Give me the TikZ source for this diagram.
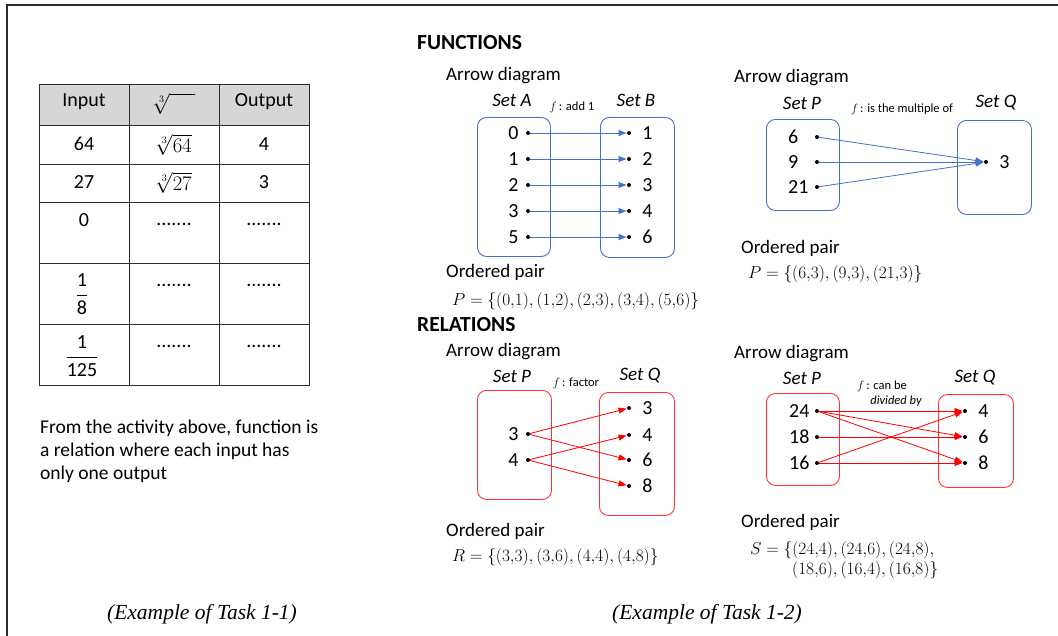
\documentclass[tikz,border=0pt]{standalone}
\usepackage{fontspec}
\setmainfont{Carlito}
\newfontfamily\capfont{Liberation Serif}
\usetikzlibrary{arrows.meta,positioning}
\definecolor{myblue}{HTML}{4472C4}
\definecolor{myred}{HTML}{FF0000}
\definecolor{boxred}{HTML}{FF3333}
\definecolor{hdrgray}{HTML}{D6D6D6}
\definecolor{framegray}{HTML}{2B2B2B}
\newcommand{\pr}[2]{(#1{,}#2)}
\begin{document}
\begin{tikzpicture}[x=1pt,y=-1pt,
  every node/.style={inner sep=0pt},
  big/.style={font=\fontsize{20}{24}\selectfont},
  head/.style={font=\fontsize{19}{23}\selectfont, anchor=west},
  ttl/.style={font=\fontsize{21.5}{25}\selectfont\bfseries, anchor=west},
  setname/.style={font=\fontsize{19}{23}\selectfont\itshape},
  small/.style={font=\fontsize{12.5}{15}\selectfont},
  body/.style={font=\fontsize{19.5}{23}\selectfont, anchor=west},
  mathtxt/.style={font=\fontsize{17.4}{21}\selectfont, anchor=west},
  captxt/.style={font=\fontsize{21.5}{25}\selectfont\capfont\itshape},
  elab/.style={font=\fontsize{20}{24}\selectfont},
  dotn/.style={circle, fill=black, minimum size=4pt},
  setboxB/.style={draw=myblue, rounded corners=9pt, line width=0.9pt, anchor=north west},
  setboxR/.style={draw=boxred, rounded corners=9pt, line width=0.9pt, anchor=north west},
  barr/.style={draw=myblue, line width=0.8pt, -{Triangle[length=8pt,width=6pt]}, shorten >=0.3pt},
  rarr/.style={draw=myred, line width=0.8pt, -{Triangle[length=8pt,width=6pt]}, shorten >=0.3pt}
]
\useasboundingbox (0,0) rectangle (1058,635);
\draw[framegray, line width=2pt] (7,636) -- (7,5) -- (1059,5);

% ---------------- table ----------------
\fill[hdrgray] (39,84) rectangle (309,125.5);
\draw[line width=1pt, framegray] (39,84) rectangle (309,385.5);
\foreach \yy in {125.5,164,202,263,324} \draw[line width=1pt, framegray] (39,\yy) -- (309,\yy);
\foreach \xx in {129,219} \draw[line width=1pt, framegray] (\xx,84) -- (\xx,385.5);
\node[big] (h1) at (84,102) {Input};
\node[big] (h2) at (174,104) {$\sqrt[3]{\vphantom{6}\hphantom{6.0}}$};
\node[big] (h3) at (264,102) {Output};
\node[big] (r1a) at (84,144) {64};
\node[big] (r1b) at (174,145) {$\sqrt[3]{64}$};
\node[big] (r1c) at (264,144) {4};
\node[big] (r2a) at (84,182) {27};
\node[big] (r2b) at (174,183) {$\sqrt[3]{27}$};
\node[big] (r2c) at (264,182) {3};
\node[big] (r3a) at (84,220) {0};
\node[big] (r3b) at (174,224) {.......};
\node[big] (r3c) at (264,224) {.......};
\node[big] (r4a) at (82,294) {$\displaystyle\frac{\mbox{1}}{\mbox{8}}$};
\node[big] (r4b) at (174,285) {.......};
\node[big] (r4c) at (264,285) {.......};
\node[big] (r5a) at (82,356) {$\displaystyle\frac{\mbox{1}}{\mbox{125}}$};
\node[big] (r5b) at (174,346) {.......};
\node[big] (r5c) at (264,346) {.......};

\node[body] (t1) at (40,428) {From the activity above, function is};
\node[body] (t2) at (40,451) {a relation where each input has};
\node[body] (t3) at (40,474) {only one output};

\node[captxt] (cap1) at (202,614) {(Example of Task 1-1)};
\node[captxt] (cap2) at (707,614) {(Example of Task 1-2)};

% ---------------- FUNCTIONS ----------------
\node[ttl] (fun) at (417,43) {FUNCTIONS};
\node[head] (ad1) at (446,76) {Arrow diagram};
\node[setname] (sA) at (512,100) {Set A};
\node[small] (fA) at (572,107) {$f$\,: add 1};
\node[setname] (sB) at (636,100) {Set B};
\node[setboxB, minimum width=73pt, minimum height=139pt] (setA) at (477,117) {};
\node[setboxB, minimum width=74pt, minimum height=140pt] (setB) at (600,117) {};
\foreach \n/\yy in {0/133,1/159,2/185,3/211,5/237}{
  \node[dotn] (a\n) at (528,\yy) {};
  \node[elab, left=7pt of a\n] (la\n) {\n};
}
\foreach \n/\yy in {1/133,2/159,3/185,4/211,6/237}{
  \node[dotn] (b\n) at (629,\yy) {};
  \node[elab, right=11pt of b\n] (lb\n) {\n};
}
\draw[barr] (a0) -- (b1);
\draw[barr] (a1) -- (b2);
\draw[barr] (a2) -- (b3);
\draw[barr] (a3) -- (b4);
\draw[barr] (a5) -- (b6);
\node[head] (op1) at (446,272) {Ordered pair};
\node[mathtxt] (m1) at (452,301) {$P=\{\pr01,\pr12,\pr23,\pr34,\pr56\}$};

% top right
\node[head] (ad2) at (734,78) {Arrow diagram};
\node[setname] (sP1) at (802,103) {Set P};
\node[small] (fP1) at (902,109) {$f$\,: is the multiple of};
\node[setname] (sQ1) at (996,103) {Set Q};
\node[setboxB, minimum width=73pt, minimum height=91pt] (setP1) at (766,119) {};
\node[setboxB, minimum width=74pt, minimum height=94pt] (setQ1) at (957,120) {};
\foreach \n/\yy in {6/137,9/162,21/187}{
  \node[dotn] (p\n) at (817,\yy) {};
  \node[elab, anchor=west] (lp\n) at (788,\yy) {\n};
}
\node[dotn] (q3) at (986,162) {};
\node[elab, right=11pt of q3] (lq3) {3};
\draw[barr] (p6) -- (q3);
\draw[barr] (p9) -- (q3);
\draw[barr] (p21) -- (q3);
\node[head] (op2) at (741,248) {Ordered pair};
\node[mathtxt] (m2) at (748,274) {$P=\{\pr63,\pr93,\pr{21}3\}$};

% ---------------- RELATIONS ----------------
\node[ttl] (rel) at (417,325) {RELATIONS};
\node[head] (ad3) at (446,352) {Arrow diagram};
\node[setname] (sP2) at (512,376) {Set P};
\node[small] (fP2) at (576,383) {$f$\,: factor};
\node[setname] (sQ2) at (640,376) {Set Q};
\node[setboxR, minimum width=74pt, minimum height=109pt] (setP2) at (477,390) {};
\node[setboxR, minimum width=75pt, minimum height=123pt] (setQ2) at (599,392) {};
\foreach \n/\yy in {3/434,4/460}{
  \node[dotn] (u\n) at (528,\yy) {};
  \node[elab, left=7pt of u\n] (lu\n) {\n};
}
\foreach \n/\yy in {3/408,4/435,6/460,8/486}{
  \node[dotn] (v\n) at (629,\yy) {};
  \node[elab, right=11pt of v\n] (lv\n) {\n};
}
\draw[rarr] (u3) -- (v3);
\draw[rarr] (u3) -- (v6);
\draw[rarr] (u4) -- (v4);
\draw[rarr] (u4) -- (v8);
\node[head] (op3) at (446,531) {Ordered pair};
\node[mathtxt] (m3) at (452,557) {$R=\{\pr33,\pr36,\pr44,\pr48\}$};

% bottom right
\node[head] (ad4) at (734,354) {Arrow diagram};
\node[setname] (sP3) at (802,378) {Set P};
\node[small] (fP3) at (882,386) {$f$\,: can be};
\node[small, font=\fontsize{12.5}{15}\selectfont\itshape] (fP3b) at (896,401) {divided by};
\node[setname] (sQ3) at (975,378) {Set Q};
\node[setboxR, minimum width=73pt, minimum height=92pt] (setP3) at (766,393) {};
\node[setboxR, minimum width=75pt, minimum height=93pt] (setQ3) at (938,394) {};
\foreach \n/\yy in {24/411,18/437,16/463}{
  \node[dotn] (x\n) at (817,\yy) {};
  \node[elab, anchor=west] (lx\n) at (789,\yy) {\n};
}
\foreach \n/\yy in {4/411,6/437,8/463}{
  \node[dotn] (w\n) at (965,\yy) {};
  \node[elab, right=11pt of w\n] (lw\n) {\n};
}
\draw[rarr] (x24) -- (w4);
\draw[rarr] (x24) -- (w6);
\draw[rarr] (x24) -- (w8);
\draw[rarr] (x18) -- (w6);
\draw[rarr] (x16) -- (w4);
\draw[rarr] (x16) -- (w8);
\node[head] (op4) at (741,522) {Ordered pair};
\node[mathtxt] (m4) at (750,550) {$S=\{\pr{24}4,\pr{24}6,\pr{24}8,$};
\node[mathtxt] (m5) at (792,570) {$\pr{18}6,\pr{16}4,\pr{16}8\}$};
\end{tikzpicture}
\end{document}
